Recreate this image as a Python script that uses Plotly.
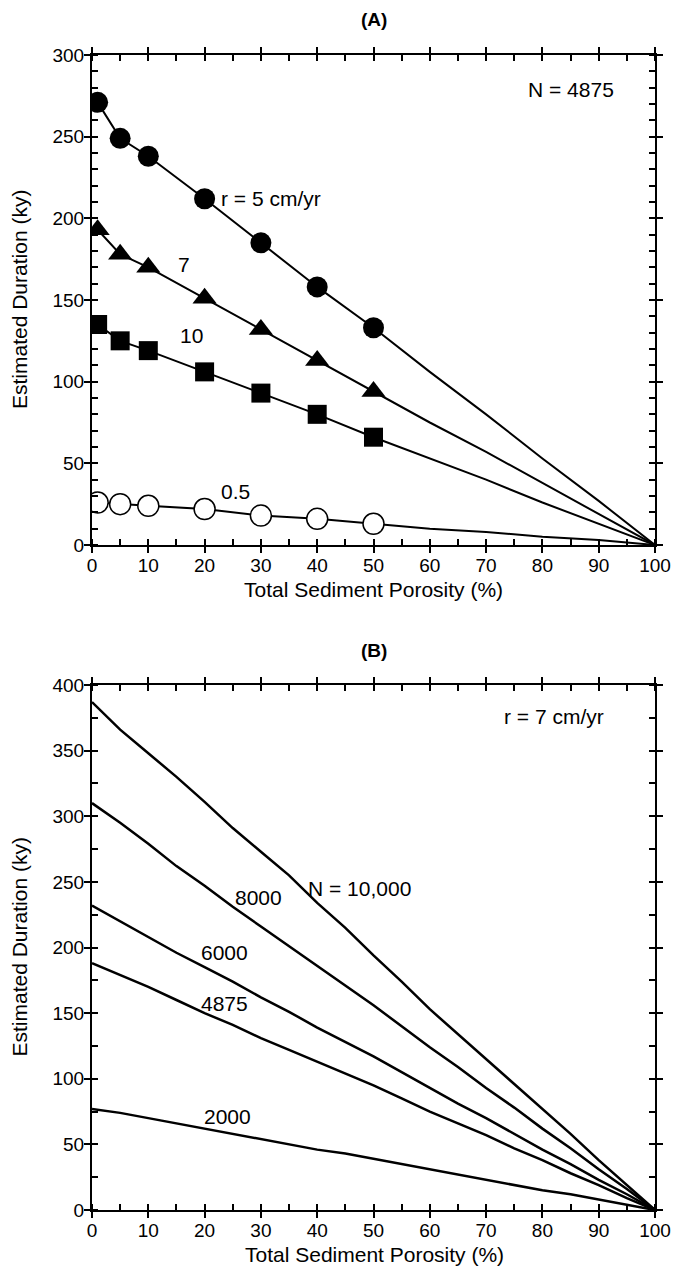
import plotly.graph_objects as go

# ---------------- data ----------------
# Panel A: N = 4875, various r
poro_pts = [1, 5, 10, 20, 30, 40, 50]
poro_ext = [60, 70, 80, 90, 100]
dur_r5 = [271, 249, 238, 212, 185, 158, 133]
dur_r7 = [193, 178, 170, 151, 132, 113, 94]
dur_r10 = [135, 125, 119, 106, 93, 80, 66]
dur_r05 = [26, 25, 24, 22, 18, 16, 13]
ext_r5 = [106, 80, 53, 27, 0]
ext_r7 = [75, 57, 38, 19, 0]
ext_r10 = [53, 40, 26, 13, 0]
ext_r05 = [10, 8, 5, 3, 0]

# Panel B: r = 7 cm/yr, various N
poro_b = [0, 5, 10, 15, 20, 25, 30, 35, 40, 45, 50, 55, 60, 65, 70, 75, 80, 85, 90, 95, 100]
dur_n10000 = [387, 366, 348, 330, 311, 291, 273, 255, 234, 215, 194, 174, 153, 134, 115, 96, 77, 58, 38, 19, 0]
dur_n8000 = [310, 295, 279, 262, 247, 231, 216, 201, 186, 171, 156, 140, 124, 109, 93, 78, 62, 47, 31, 16, 0]
dur_n6000 = [232, 220, 208, 196, 185, 174, 162, 151, 139, 128, 117, 105, 93, 81, 70, 58, 46, 35, 23, 12, 0]
dur_n4875 = [188, 179, 170, 160, 150, 141, 131, 122, 113, 104, 95, 85, 75, 66, 57, 47, 38, 28, 19, 9, 0]
dur_n2000 = [77, 74, 70, 66, 62, 58, 54, 50, 46, 43, 39, 35, 31, 27, 23, 19, 15, 12, 8, 4, 0]

xticks = [0, 10, 20, 30, 40, 50, 60, 70, 80, 90, 100]

# ---------------- layout helpers ----------------
W, H = 674, 1267
ML, MR = 92, 19
PW = W - ML - MR
FONT = "Liberation Sans, Arial, sans-serif"


def px2fx(px):
    return (px - ML) / PW


def py2fy(py):
    return 1 - py / H


A_TOP, A_BOT = 55, 545
B_TOP, B_BOT = 685, 1210

fig = go.Figure()

line_style = dict(color="black", width=2)

# Panel A lines
for yv, ye in [(dur_r5, ext_r5), (dur_r7, ext_r7), (dur_r10, ext_r10), (dur_r05, ext_r05)]:
    fig.add_trace(go.Scatter(x=poro_pts + poro_ext, y=yv + ye, mode="lines",
                             line=line_style, xaxis="x", yaxis="y", showlegend=False,
                             hoverinfo="skip"))

# Panel A markers
fig.add_trace(go.Scatter(x=poro_pts, y=dur_r5, mode="markers", xaxis="x", yaxis="y",
                         marker=dict(symbol="circle", size=21, color="black"), showlegend=False))
fig.add_trace(go.Scatter(x=poro_pts, y=dur_r7, mode="markers", xaxis="x", yaxis="y",
                         marker=dict(symbol="triangle-up", size=21, color="black"), showlegend=False))
fig.add_trace(go.Scatter(x=poro_pts, y=dur_r10, mode="markers", xaxis="x", yaxis="y",
                         marker=dict(symbol="square", size=19, color="black"), showlegend=False))
fig.add_trace(go.Scatter(x=poro_pts, y=dur_r05, mode="markers", xaxis="x", yaxis="y",
                         marker=dict(symbol="circle", size=21, color="white",
                                     line=dict(color="black", width=1.5)), showlegend=False))

# Panel B lines
for yv in [dur_n10000, dur_n8000, dur_n6000, dur_n4875, dur_n2000]:
    fig.add_trace(go.Scatter(x=poro_b, y=yv, mode="lines", line=dict(color="black", width=2.5),
                             xaxis="x2", yaxis="y2", showlegend=False, hoverinfo="skip"))

tickfont = dict(family=FONT, size=19, color="black")


def xaxis(anchor):
    return dict(range=[0, 100], domain=[0, 1], anchor=anchor, showline=True, linecolor="black",
                linewidth=2, mirror="ticks", ticks="outside", ticklen=6, tickwidth=2,
                tickcolor="black", tickvals=xticks, ticktext=[str(v) for v in xticks],
                ticklabelstandoff=-4,
                minor=dict(dtick=5, tick0=0, ticks="inside", ticklen=6, tickwidth=1.5,
                           tickcolor="black", showgrid=False),
                showgrid=False, zeroline=False, tickfont=tickfont)


def yaxis(anchor, rng, minor, domain):
    return dict(range=rng, domain=domain, anchor=anchor, showline=True, linecolor="black",
                linewidth=2, mirror="ticks", ticks="outside", ticklen=6, tickwidth=2,
                tickcolor="black", dtick=50, tick0=0, ticklabelstandoff=-4,
                minor=dict(dtick=minor, tick0=0, ticks="inside", ticklen=6, tickwidth=1.5,
                           tickcolor="black", showgrid=False),
                showgrid=False, zeroline=False, tickfont=tickfont)


fig.update_layout(
    width=W, height=H,
    margin=dict(l=ML, r=MR, t=0, b=0, autoexpand=False),
    paper_bgcolor="white", plot_bgcolor="white",
    xaxis=xaxis("y"),
    yaxis=yaxis("x", [0, 300], 10, [py2fy(A_BOT), py2fy(A_TOP)]),
    xaxis2=xaxis("y2"),
    yaxis2=yaxis("x2", [0, 400], 25, [py2fy(B_BOT), py2fy(B_TOP)]),
)

lab = dict(family=FONT, size=21, color="black")
ttl = dict(family=FONT, size=21, color="black")
ann = []


def pann(text, px, py, font, **kw):
    d = dict(text=text, x=px2fx(px), y=py2fy(py), xref="paper", yref="paper",
             xanchor="center", yanchor="middle", showarrow=False, font=font)
    d.update(kw)
    ann.append(d)


def dann(text, x, y, axis, xanchor="center"):
    ann.append(dict(text=text, x=x, y=y, xref="x" + axis, yref="y" + axis,
                    xanchor=xanchor, yanchor="middle", showarrow=False, font=lab))


# titles
pann("<b>(A)</b>", 374, 19, dict(family=FONT, size=19, color="black"))
pann("<b>(B)</b>", 374, 650, dict(family=FONT, size=19, color="black"))
# x titles
pann("Total Sediment Porosity (%)", 373, 589, ttl)
pann("Total Sediment Porosity (%)", 374, 1254, ttl)
# y titles
pann("Estimated Duration (ky)", 19, (A_TOP + A_BOT) / 2, ttl, textangle=-90)
pann("Estimated Duration (ky)", 19, (B_TOP + B_BOT) / 2, ttl, textangle=-90)

# panel A labels
dann("N = 4875", 85.0, 279, "")
dann("r = 5 cm/yr", 22.5, 212, "", xanchor="left")
dann("7", 16.3, 172, "")
dann("10", 17.7, 128, "")
dann("0.5", 25.5, 33, "")

# panel B labels
dann("r = 7 cm/yr", 82.0, 376, "2")
dann("N = 10,000", 38.0, 245, "2", xanchor="left")
dann("8000", 29.5, 238, "2")
dann("6000", 23.5, 196, "2")
dann("4875", 23.5, 157, "2")
dann("2000", 24, 71, "2")

fig.update_layout(annotations=ann)

fig.write_html("out.html", config={"displayModeBar": False},
               post_script="document.body.style.margin='0';document.body.style.overflow='hidden';")
